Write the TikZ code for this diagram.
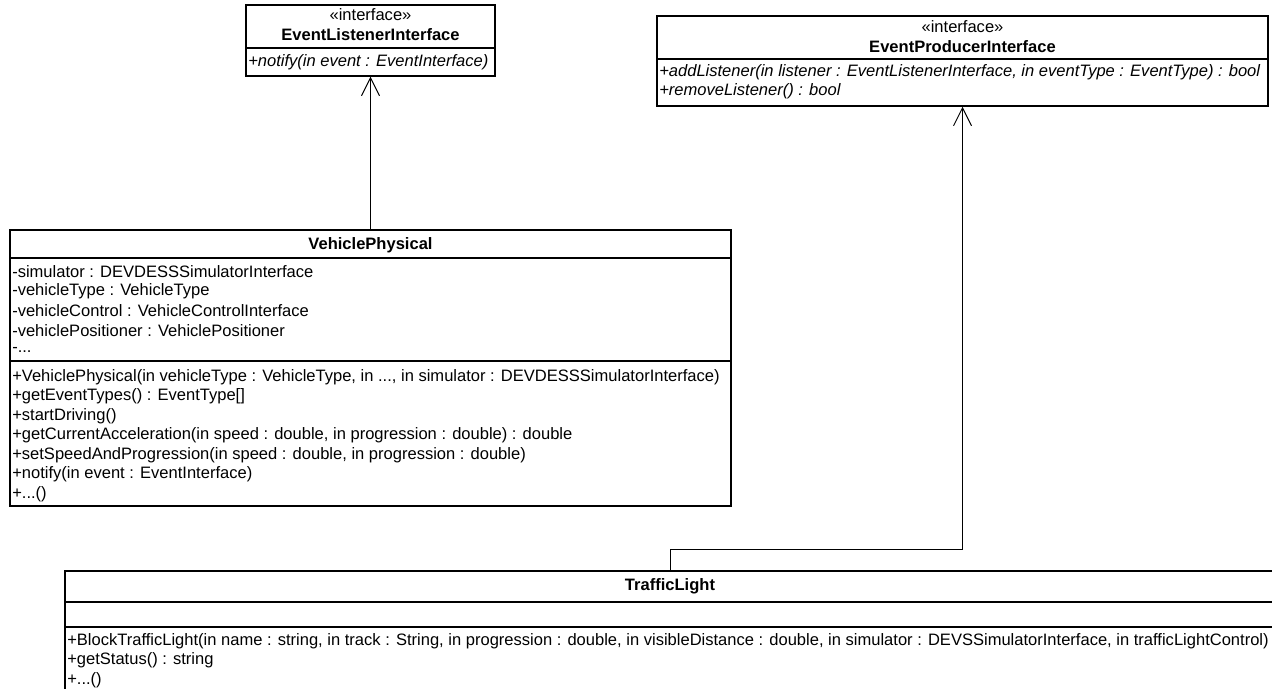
\documentclass[tikz,border=0pt]{standalone}
\usepackage{fontspec}
\setmainfont{Liberation Sans}
\usetikzlibrary{arrows.meta}

\tikzset{
  classbox/.style={draw, rectangle, line width=1.1pt, inner sep=0pt},
  divider/.style={line width=1.1pt},
  member/.style={anchor=west, inner sep=0.75pt, font=\fontsize{12.4}{14}\selectfont},
  opmember/.style={member, font=\fontsize{12.4}{14}\selectfont\itshape},
  classname/.style={inner sep=0.75pt, font=\fontsize{12.4}{14}\selectfont\bfseries},
  stereotype/.style={inner sep=0.75pt, font=\fontsize{12.4}{14}\selectfont},
  realize/.style={line width=0.7pt, -{Straight Barb[length=13.5pt,width=13.5pt,line width=0.7pt]}},
}

\begin{document}
\begin{tikzpicture}[x=0.75pt,y=0.75pt,yscale=-1,xscale=1]
\useasboundingbox (0,0) rectangle (1272,689); %image frame
\clip (0,0) rectangle (1272,689);

%Class boxes
\node[classbox, minimum width=186.75pt, minimum height=53.25pt] (eli) at (370.5,40.5) {};
\node[classbox, minimum width=458.25pt, minimum height=67.5pt] (epi) at (962.5,61) {};
\node[classbox, minimum width=540.75pt, minimum height=207pt] (vp) at (370.5,368) {};
\node[classbox, minimum width=907.5pt, minimum height=111.75pt] (tl) at (670,645.5) {};

%Compartment lines
\draw[divider] (246,48) -- (495,48);
\draw[divider] (657,59) -- (1268,59);
\draw[divider] (10,258) -- (731,258);
\draw[divider] (10,361) -- (731,361);
\draw[divider] (65,602) -- (1275,602);
\draw[divider] (65,627) -- (1275,627);

%Realizations
\draw[realize] (vp.north) -- (eli.south);
\draw[realize] (tl.north) -- ++(0,-21) -| (epi.south);

% Text Node
\node[stereotype] (elis) at (370.5,15) {«interface»};
\node[classname] (elin) at (370.5,35) {EventListenerInterface};
\node[opmember] (elio1) at (247,62) {+notify(in event : EventInterface)};
% Text Node
\node[stereotype] (epis) at (962.5,27) {«interface»};
\node[classname] (epin) at (962.5,47) {EventProducerInterface};
\node[opmember] (epio1) at (658,72) {+addListener(in listener : EventListenerInterface, in eventType : EventType) : bool};
\node[opmember] (epio2) at (658,91) {+removeListener() : bool};
% Text Node
\node[classname] (vpn) at (370.5,245) {VehiclePhysical};
\node[member] (vpa1) at (11,272) {-simulator : DEVDESSSimulatorInterface};
\node[member] (vpa2) at (11,291.5) {-vehicleType : VehicleType};
\node[member] (vpa3) at (11,311) {-vehicleControl : VehicleControlInterface};
\node[member] (vpa4) at (11,330.5) {-vehiclePositioner : VehiclePositioner};
\node[member] (vpa5) at (11,350) {-...};
\node[member] (vpo1) at (11,377) {+VehiclePhysical(in vehicleType : VehicleType, in ..., in simulator : DEVDESSSimulatorInterface)};
\node[member] (vpo2) at (11,396.5) {+getEventTypes() : EventType[]};
\node[member] (vpo3) at (11,416) {+startDriving()};
\node[member] (vpo4) at (11,435.5) {+getCurrentAcceleration(in speed : double, in progression : double) : double};
\node[member] (vpo5) at (11,455) {+setSpeedAndProgression(in speed : double, in progression : double)};
\node[member] (vpo6) at (11,474.5) {+notify(in event : EventInterface)};
\node[member] (vpo7) at (11,494) {+...()};
% Text Node
\node[classname] (tln) at (670,586) {TrafficLight};
\node[member] (tlo1) at (66,641) {+BlockTrafficLight(in name : string, in track : String, in progression : double, in visibleDistance : double, in simulator : DEVSSimulatorInterface, in trafficLightControl)};
\node[member] (tlo2) at (66,660.5) {+getStatus() : string};
\node[member] (tlo3) at (66,680) {+...()};

\end{tikzpicture}
\end{document}
